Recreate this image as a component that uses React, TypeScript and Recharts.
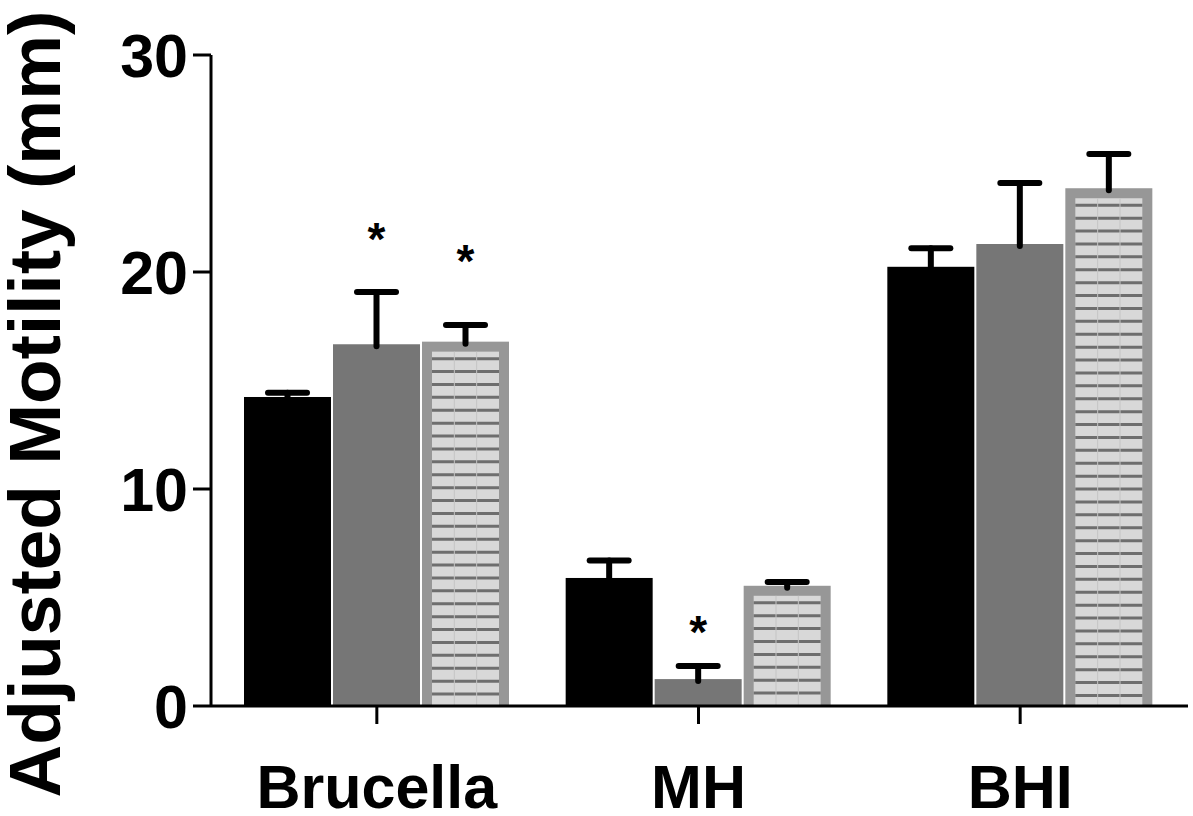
import React from "react";
import { BarChart, Bar, XAxis, YAxis } from "recharts";

const categories = ["Brucella", "MH", "BHI"];

// mean and error (upper SEM) for each of the three series
const blackMean = [14.24, 5.9, 20.24];
const blackErr = [0.2, 0.8, 0.85];
const greyMean = [16.67, 1.24, 21.29];
const greyErr = [2.41, 0.6, 2.81];
const hatchMean = [16.79, 5.54, 23.86];
const hatchErr = [0.77, 0.17, 1.58];

// heights (in mm) where the significance asterisks sit
const greyStar = [21.8, 3.69, null];
const hatchStar = [20.78, null, null];

const data = categories.map((name, i) => ({
  name,
  black: blackMean[i],
  blackErr: blackErr[i],
  grey: greyMean[i],
  greyErr: greyErr[i],
  greyStar: greyStar[i],
  hatch: hatchMean[i],
  hatchErr: hatchErr[i],
  hatchStar: hatchStar[i],
}));

const FONT = "Arial, 'Liberation Sans', sans-serif";

const errorAndStar = (props: any, errKey: string, starKey: string | null) => {
  const { x, y, width, height, value, payload } = props;
  const ppu = height / value;
  const cx = x + width / 2;
  const err = payload[errKey];
  const capY = y - err * ppu;
  const star = starKey ? payload[starKey] : null;
  const bottom = y + height;
  return (
    <g>
      <line x1={cx} y1={y + 2} x2={cx} y2={capY} stroke="#000" strokeWidth={6} strokeLinecap="round" />
      <line x1={cx - 19.5} y1={capY} x2={cx + 19.5} y2={capY} stroke="#000" strokeWidth={6} strokeLinecap="round" />
      {star != null && (
        <text
          x={cx}
          y={bottom - star * ppu + 22}
          textAnchor="middle"
          fontFamily={FONT}
          fontWeight="bold"
          fontSize={46}
          fill="#000"
        >
          *
        </text>
      )}
    </g>
  );
};

const BlackShape = (props: any) => {
  const { x, y, width, height } = props;
  return (
    <g>
      <rect x={x} y={y} width={width} height={height} fill="#000" />
      {errorAndStar(props, "blackErr", null)}
    </g>
  );
};

const GreyShape = (props: any) => {
  const { x, y, width, height } = props;
  return (
    <g>
      <rect x={x} y={y} width={width} height={height} fill="#767676" />
      {errorAndStar(props, "greyErr", "greyStar")}
    </g>
  );
};

const HatchShape = (props: any) => {
  const { x, y, width, height } = props;
  const b = 10;
  const ix = x + b;
  const iy = y + b;
  const iw = width - 2 * b;
  const ih = height - b;
  const lines = [];
  for (let ly = iy + 7; ly < y + height - 1; ly += 12.9) {
    lines.push(
      <line key={ly} x1={ix} y1={ly} x2={ix + iw} y2={ly} stroke="#6e6e6e" strokeWidth={3} />
    );
  }
  return (
    <g>
      <rect x={x} y={y} width={width} height={height} fill="#979797" />
      <rect x={ix} y={iy} width={iw} height={ih} fill="#d8d8d8" />
      {lines}
      <line x1={ix + iw / 3} y1={iy} x2={ix + iw / 3} y2={iy + ih} stroke="#c4c4c4" strokeWidth={1} />
      <line x1={ix + (2 * iw) / 3} y1={iy} x2={ix + (2 * iw) / 3} y2={iy + ih} stroke="#c4c4c4" strokeWidth={1} />
      {errorAndStar(props, "hatchErr", "hatchStar")}
    </g>
  );
};

const YLabel = () => (
  <text
    x={60}
    y={404}
    transform="rotate(-90 60 404)"
    textAnchor="middle"
    fontFamily={FONT}
    fontWeight="bold"
    fontSize={73}
    fill="#000"
  >
    Adjusted Motility (mm)
  </text>
);

export default function App() {
  return (
    <div style={{ width: 1193, height: 816 }}>
      <style>{"body{margin:0}"}</style>
      <BarChart
        width={1193}
        height={816}
        data={data}
        margin={{ top: 55, right: 5, left: 0, bottom: 0 }}
        barSize={87}
        barGap={2}
      >
        <XAxis
          dataKey="name"
          height={110}
          padding={{ left: 5, right: 7 }}
          axisLine={{ stroke: "#000", strokeWidth: 3 }}
          tickLine={{ stroke: "#000", strokeWidth: 3 }}
          tickSize={18}
          tickMargin={41}
          tick={{ fill: "#000", fontFamily: FONT, fontWeight: "bold", fontSize: 61 }}
        />
        <YAxis
          width={211}
          domain={[0, 30]}
          ticks={[0, 10, 20, 30]}
          axisLine={{ stroke: "#000", strokeWidth: 3 }}
          tickLine={{ stroke: "#000", strokeWidth: 3 }}
          tickSize={18}
          tickMargin={5}
          tick={{ fill: "#000", fontFamily: FONT, fontWeight: "bold", fontSize: 61 }}
        />
        <Bar dataKey="black" shape={<BlackShape />} isAnimationActive={false} />
        <Bar dataKey="grey" shape={<GreyShape />} isAnimationActive={false} />
        <Bar dataKey="hatch" shape={<HatchShape />} isAnimationActive={false} />
        <YLabel />
      </BarChart>
    </div>
  );
}
